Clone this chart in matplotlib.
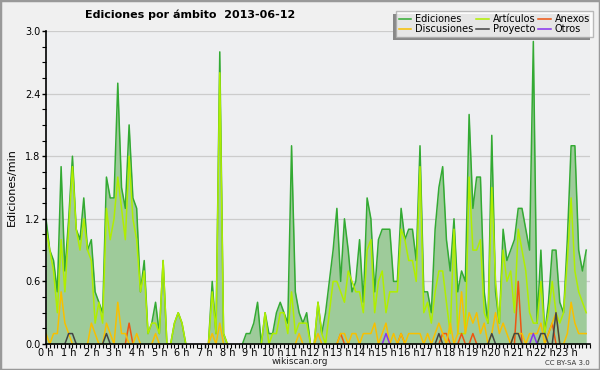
# Ediciones por ámbito, wikiscan style chart (10-minute buckets)

import numpy as np
import matplotlib
matplotlib.use('Agg')
import matplotlib.pyplot as plt
import matplotlib.patheffects as pe
from matplotlib.ticker import MultipleLocator, FixedLocator, FormatStrFormatter
from matplotlib.patches import Rectangle

# edits per minute, one value every 10 minutes (144 values, 0:00 -> 23:50)
ediciones = [
    1.2, 0.9, 0.8, 0.5, 1.7, 0.7, 1.2, 1.8, 1.1, 1.0,
    1.4, 0.9, 1.0, 0.5, 0.4, 0.3, 1.6, 1.4, 1.4, 2.5,
    1.5, 1.3, 2.1, 1.4, 1.3, 0.5, 0.8, 0.1, 0.2, 0.4,
    0.1, 0.8, 0.0, 0.0, 0.2, 0.3, 0.2, 0.0, 0.0, 0.0,
    0.0, 0.0, 0.0, 0.0, 0.6, 0.1, 2.8, 0.1, 0.0, 0.0,
    0.0, 0.0, 0.0, 0.1, 0.1, 0.2, 0.4, 0.0, 0.3, 0.1,
    0.1, 0.3, 0.4, 0.3, 0.2, 1.9, 0.5, 0.3, 0.2, 0.3,
    0.0, 0.0, 0.4, 0.1, 0.3, 0.6, 0.9, 1.3, 0.6, 1.2,
    0.9, 0.5, 0.6, 1.0, 0.4, 1.4, 1.2, 0.5, 1.0, 1.1,
    1.1, 1.1, 0.6, 0.6, 1.3, 1.0, 1.1, 1.1, 0.8, 1.9,
    0.5, 0.5, 0.3, 1.1, 1.5, 1.7, 1.0, 0.7, 1.2, 0.5,
    0.7, 0.6, 2.2, 1.3, 1.6, 1.6, 0.5, 0.2, 2.0, 0.5,
    0.2, 1.1, 0.8, 0.9, 1.0, 1.3, 1.3, 1.1, 0.9, 2.9,
    0.2, 0.9, 0.1, 0.4, 0.9, 0.9, 0.4, 0.3, 1.0, 1.9,
    1.9, 0.9, 0.7, 0.9,
]
articulos = [
    1.1, 0.9, 0.7, 0.3, 1.0, 0.5, 1.1, 1.7, 1.1, 0.9,
    1.2, 0.9, 0.8, 0.2, 0.4, 0.2, 1.3, 1.0, 1.2, 1.6,
    1.3, 1.0, 1.8, 1.2, 1.0, 0.5, 0.7, 0.1, 0.2, 0.2,
    0.1, 0.8, 0.0, 0.0, 0.2, 0.3, 0.2, 0.0, 0.0, 0.0,
    0.0, 0.0, 0.0, 0.0, 0.5, 0.1, 2.6, 0.1, 0.0, 0.0,
    0.0, 0.0, 0.0, 0.0, 0.0, 0.0, 0.0, 0.0, 0.3, 0.0,
    0.1, 0.1, 0.3, 0.3, 0.1, 0.5, 0.1, 0.2, 0.2, 0.2,
    0.0, 0.0, 0.4, 0.1, 0.0, 0.3, 0.6, 0.6, 0.5, 0.4,
    0.7, 0.6, 0.5, 0.5, 0.3, 0.9, 1.0, 0.3, 0.6, 0.7,
    0.3, 0.5, 0.5, 0.5, 1.1, 1.0, 0.8, 0.8, 0.6, 1.7,
    0.3, 0.4, 0.2, 0.5, 0.7, 0.7, 0.4, 0.1, 1.1, 0.1,
    0.1, 0.1, 1.6, 0.9, 0.9, 1.0, 0.3, 0.2, 1.5, 0.6,
    0.2, 0.9, 0.6, 0.7, 0.3, 1.1, 0.9, 0.7, 0.3, 0.2,
    0.2, 0.6, 0.1, 0.3, 0.6, 0.3, 0.2, 0.3, 0.8, 1.4,
    0.7, 0.5, 0.4, 0.3,
]
discusiones = [
    0.1, 0.0, 0.1, 0.1, 0.5, 0.2, 0.1, 0.0, 0.0, 0.0,
    0.0, 0.0, 0.2, 0.1, 0.0, 0.0, 0.2, 0.1, 0.0, 0.4,
    0.1, 0.1, 0.0, 0.0, 0.1, 0.0, 0.0, 0.0, 0.0, 0.1,
    0.0, 0.0, 0.0, 0.0, 0.0, 0.0, 0.0, 0.0, 0.0, 0.0,
    0.0, 0.0, 0.0, 0.0, 0.1, 0.0, 0.2, 0.0, 0.0, 0.0,
    0.0, 0.0, 0.0, 0.0, 0.0, 0.0, 0.0, 0.0, 0.0, 0.0,
    0.0, 0.0, 0.0, 0.0, 0.0, 0.0, 0.0, 0.1, 0.0, 0.0,
    0.0, 0.0, 0.1, 0.0, 0.0, 0.0, 0.0, 0.0, 0.1, 0.1,
    0.0, 0.1, 0.1, 0.0, 0.1, 0.1, 0.1, 0.2, 0.0, 0.1,
    0.2, 0.0, 0.1, 0.0, 0.1, 0.0, 0.1, 0.1, 0.1, 0.1,
    0.0, 0.1, 0.0, 0.1, 0.2, 0.1, 0.0, 0.2, 0.0, 0.1,
    0.5, 0.1, 0.3, 0.2, 0.3, 0.1, 0.2, 0.0, 0.1, 0.3,
    0.1, 0.2, 0.1, 0.0, 0.1, 0.1, 0.1, 0.0, 0.1, 0.1,
    0.1, 0.2, 0.0, 0.1, 0.2, 0.3, 0.0, 0.0, 0.1, 0.4,
    0.2, 0.1, 0.1, 0.1,
]
# sparse series: bucket index -> value
anexos_at = [22, 78, 94, 105, 106, 110, 113, 125, 133, 134]
anexos_val = [0.2, 0.1, 0.1, 0.1, 0.1, 0.1, 0.1, 0.6, 0.1, 0.2]
proyecto_at = [6, 7, 16, 104, 118, 124, 125, 131, 132, 135]
proyecto_val = [0.1, 0.1, 0.1, 0.1, 0.1, 0.1, 0.1, 0.1, 0.1, 0.3]
otros_at = [90, 129]
otros_val = [0.1, 0.1]

hour_labels = ['%d h' % h for h in range(24)]


def sparse(at, val, n=144):
    arr = np.zeros(n)
    arr[at] = val
    return arr


def hide_flat_zero(arr):
    """blank out stretches of zeros so they don't paint over the x axis"""
    arr = np.asarray(arr, dtype=float)
    out = arr.copy()
    for i in range(len(arr)):
        left = arr[i - 1] if i > 0 else 0.0
        right = arr[i + 1] if i < len(arr) - 1 else 0.0
        if arr[i] == 0 and left == 0 and right == 0:
            out[i] = np.nan
    return out


t = np.arange(144) / 6.0
ed = np.array(ediciones)

fig = plt.figure(figsize=(6.0, 3.7), dpi=100, facecolor='#f0f0f0')
ax = fig.add_axes([46 / 600, 1 - 344 / 370, 544 / 600, 313 / 370])
ax.set_facecolor('#eeeff1')

ax.fill_between(t, 0, ed, color='#9ecb9a', lw=0, zorder=1)
series = [
    ('Ediciones', ed, '#33aa33'),
    ('Artículos', np.array(articulos), '#b0ee00'),
    ('Anexos', sparse(anexos_at, anexos_val), '#ee5511'),
    ('Discusiones', np.array(discusiones), '#f8c000'),
    ('Proyecto', sparse(proyecto_at, proyecto_val), '#444444'),
    ('Otros', sparse(otros_at, otros_val), '#8833ee'),
]
handles = {}
for z, (name, y, col) in enumerate(series):
    ln, = ax.plot(t, hide_flat_zero(y), color=col, lw=1.1, zorder=2 + z * 0.1)
    handles[name] = ln

ax.set_xlim(0, 24)
ax.set_ylim(0, 3.0)
ax.yaxis.set_major_locator(MultipleLocator(0.6))
ax.yaxis.set_minor_locator(MultipleLocator(0.15))
ax.yaxis.set_major_formatter(FormatStrFormatter('%.1f'))
ax.xaxis.set_major_locator(FixedLocator(range(24)))
ax.xaxis.set_minor_locator(MultipleLocator(1 / 6))
ax.set_xticklabels(hour_labels)
ax.grid(axis='y', color='#cccccc', lw=0.9, zorder=0)
ax.set_axisbelow(True)

for side in ['top', 'right']:
    ax.spines[side].set_visible(False)
for side in ['left', 'bottom']:
    ax.spines[side].set_linewidth(1.2)
    ax.spines[side].set_zorder(5)
ax.tick_params(axis='both', which='major', labelsize=7, length=3, width=1, pad=1)
ax.tick_params(axis='x', which='major', pad=0)
ax.tick_params(axis='both', which='minor', length=3, width=0.8)

ax.set_ylabel('Ediciones/min', fontsize=8, labelpad=6)

fig.text(85 / 600, 1 - 10 / 370, 'Ediciones por ámbito  2013-06-12',
         fontsize=8, weight='bold', ha='left', va='top')
fig.text(300 / 600, 1 - 362 / 370, 'wikiscan.org', fontsize=6.5,
         ha='center', va='center', color='#222222')
fig.text(590 / 600, 1 - 363 / 370, 'CC BY-SA 3.0', fontsize=5,
         ha='right', va='center', color='#333333')

order = ['Ediciones', 'Discusiones', 'Artículos', 'Proyecto', 'Anexos', 'Otros']
leg = fig.legend([handles[k] for k in order], order, ncol=3,
                 loc='upper right', bbox_to_anchor=(593 / 600, 1 - 11 / 370),
                 fontsize=7, frameon=True, fancybox=False, shadow=False,
                 handlelength=1.3, handletextpad=0.4, columnspacing=0.3,
                 borderpad=0.3, labelspacing=0.05, borderaxespad=0)
frame = leg.get_frame()
frame.set_edgecolor('#aaaaaa')
frame.set_facecolor('white')
# shadow falls to the lower left of the box
frame.set_path_effects([pe.SimplePatchShadow(offset=(-2.2, -2.2), shadow_rgbFace='#888888', alpha=1.0),
                        pe.Normal()])
leg.set_zorder(10)

fig.patches.append(Rectangle((0, 0), 1, 1, transform=fig.transFigure,
                             fill=False, edgecolor='#999999', lw=2.5))

fig.savefig('out.png', dpi=100, facecolor=fig.get_facecolor())
